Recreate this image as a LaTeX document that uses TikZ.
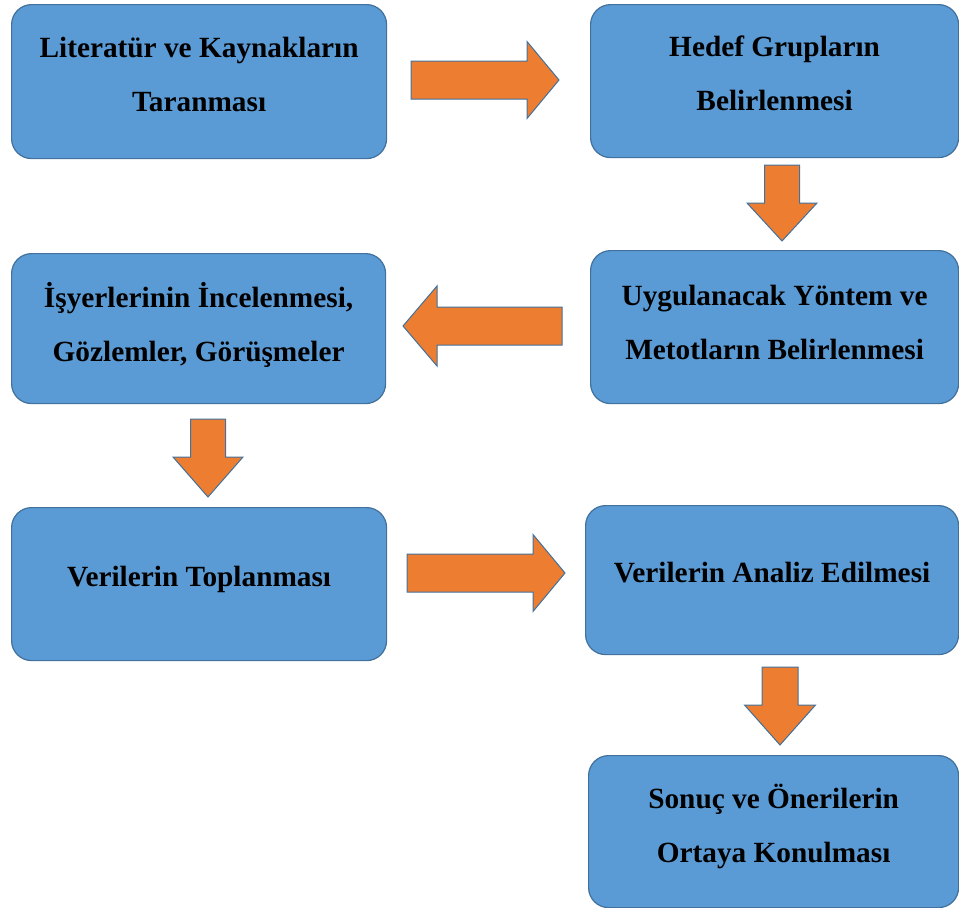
\documentclass[tikz,border=0pt]{standalone}
\usepackage{fontspec}
\setmainfont{Liberation Serif}
\usetikzlibrary{calc}
\definecolor{boxblue}{HTML}{5B9BD5}
\definecolor{boxline}{HTML}{41719C}
\definecolor{arrorange}{HTML}{ED7D31}
% #1 tail, #2 tip, #3 ux, #4 uy, #5 shaft half width, #6 head half width, #7 head length
\newcommand\blockarr[7]{%
 \draw[blockarrow]
  ($(#1)+({-(#5)*(#4)},{(#5)*(#3)})$) --
  ($(#2)+({-(#7)*(#3)-(#5)*(#4)},{-(#7)*(#4)+(#5)*(#3)})$) --
  ($(#2)+({-(#7)*(#3)-(#6)*(#4)},{-(#7)*(#4)+(#6)*(#3)})$) --
  (#2) --
  ($(#2)+({-(#7)*(#3)+(#6)*(#4)},{-(#7)*(#4)-(#6)*(#3)})$) --
  ($(#2)+({-(#7)*(#3)+(#5)*(#4)},{-(#7)*(#4)-(#5)*(#3)})$) --
  ($(#1)+({(#5)*(#4)},{-(#5)*(#3)})$) -- cycle;}
\begin{document}
\begin{tikzpicture}[x=1pt,y=1pt,
  box/.style={draw=boxline, fill=boxblue, line width=1.2pt, rounded corners=20pt,
    anchor=north west, inner sep=0pt},
  txt/.style={align=center, font=\fontsize{29.3}{54}\selectfont\bfseries, text=black, inner sep=0pt},
  blockarrow/.style={draw=boxline, fill=arrorange, line width=1pt, line join=miter}]
\useasboundingbox (0,0) rectangle (959,-908);
% boxes
\node[box, minimum width=375, minimum height=154] (b1) at (11,-4) {};
\node[box, minimum width=368, minimum height=153] (b2) at (590,-4) {};
\node[box, minimum width=368, minimum height=153] (b3) at (590,-250) {};
\node[box, minimum width=374, minimum height=150] (b4) at (11,-253) {};
\node[box, minimum width=375, minimum height=153] (b5) at (11,-507) {};
\node[box, minimum width=373, minimum height=149] (b6) at (585,-505) {};
\node[box, minimum width=370, minimum height=152] (b7) at (588,-755) {};
% texts
\node[txt] (t1) at ([yshift=7.5]b1.center) {Literatür ve Kaynakların\\Taranması};
\node[txt] (t2) at ([yshift=7.5]b2.center) {Hedef Grupların\\Belirlenmesi};
\node[txt] (t3) at ([yshift=4.5]b3.center) {Uygulanacak Yöntem ve\\Metotların Belirlenmesi};
\node[txt] (t4) at ([yshift=4]b4.center) {İşyerlerinin İncelenmesi,\\Gözlemler, Görüşmeler};
\node[txt] (t5) at ([yshift=5]b5.center) {Verilerin Toplanması};
\node[txt] (t6) at ([yshift=8]b6.center) {Verilerin Analiz Edilmesi};
\node[txt] (t7) at ([yshift=5]b7.center) {Sonuç ve Önerilerin\\Ortaya Konulması};
% arrow end points
\coordinate (a1s) at (411,-80);  \coordinate (a1e) at (559,-80);
\coordinate (a2s) at (782,-165); \coordinate (a2e) at (782,-241);
\coordinate (a3s) at (562,-326); \coordinate (a3e) at (403,-326);
\coordinate (a4s) at (208,-419); \coordinate (a4e) at (208,-497);
\coordinate (a5s) at (407,-573); \coordinate (a5e) at (565,-573);
\coordinate (a6s) at (780,-667); \coordinate (a6e) at (780,-745);
% block arrows
\blockarr{a1s}{a1e}{1}{0}{19}{38.5}{32}
\blockarr{a2s}{a2e}{0}{-1}{17.5}{35}{38}
\blockarr{a3s}{a3e}{-1}{0}{19}{40}{34}
\blockarr{a4s}{a4e}{0}{-1}{17.5}{35}{40}
\blockarr{a5s}{a5e}{1}{0}{19}{38.5}{32}
\blockarr{a6s}{a6e}{0}{-1}{18}{35.5}{40}
\end{tikzpicture}
\end{document}
